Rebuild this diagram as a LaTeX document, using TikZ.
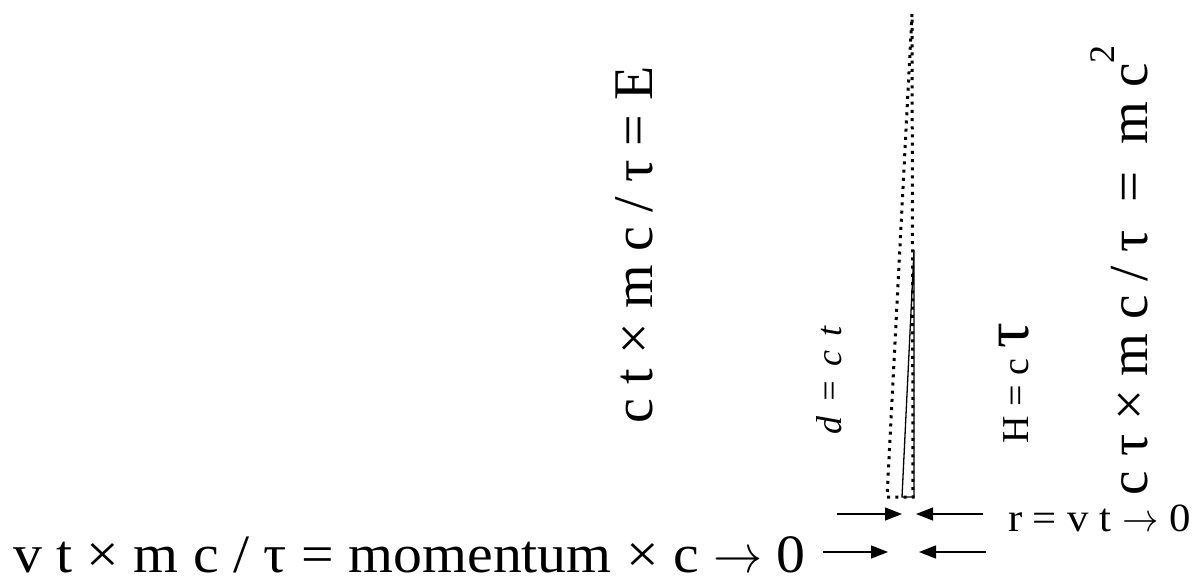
\RequirePackage{fix-cm}
\documentclass[tikz,border=0pt]{standalone}
\usepackage{graphicx}
\usepackage{fontspec}
\setmainfont{Liberation Serif}
\usetikzlibrary{arrows.meta}
\newcommand{\myarrow}{\scalebox{0.85}[1]{$\rightarrow$}}
\begin{document}
\begin{tikzpicture}[x=1pt,y=-1pt,
  dotline/.style={line width=3pt, dash pattern=on 3pt off 5.2pt},
  solidline/.style={line width=1.3pt},
  arr/.style={line width=1.3pt,-{Triangle[length=17pt,width=13pt]}},
  lbl/.style={inner sep=0pt, outer sep=0pt},
]
\useasboundingbox (0,0) rectangle (1193,582);
% dotted triangle
\coordinate (dA) at (912,14);
\coordinate (dL) at (887,497);
\coordinate (dR) at (913,497);
\draw[dotline] (dA) -- (dL) -- (dR) -- cycle;
% solid triangle
\coordinate (sA) at (914,250);
\coordinate (sL) at (902,497);
\coordinate (sR) at (914,497);
\draw[solidline] (sA) -- (sL) -- (sR) -- cycle;
% arrows
\coordinate (a1s) at (837,514); \coordinate (a1e) at (902,514);
\coordinate (a2s) at (983,514); \coordinate (a2e) at (916,514);
\coordinate (a3s) at (823,552); \coordinate (a3e) at (888,552);
\coordinate (a4s) at (986,552); \coordinate (a4e) at (919,552);
\draw[arr] (a1s) -- (a1e);
\draw[arr] (a2s) -- (a2e);
\draw[arr] (a3s) -- (a3e);
\draw[arr] (a4s) -- (a4e);
% texts
\node[lbl, rotate=90, anchor=base west, font=\fontsize{56}{60}\selectfont] (E) at (652,423) {c t × m c / τ = E};
\node[lbl, rotate=90, anchor=base west, font=\fontsize{55}{60}\selectfont] (mc2) at (1147,495) {c τ × m c / τ \ = \ m c\raisebox{33pt}{\fontsize{36}{36}\selectfont 2}};
\node[lbl, rotate=90, anchor=base west, font=\fontsize{38}{40}\selectfont] (H) at (1028,443) {H = c {\fontsize{64}{64}\selectfont τ}};
\node[lbl, rotate=90, anchor=base west, font=\itshape\fontsize{36}{40}\selectfont] (d) at (841,434) {d\hspace{0.35em}=\hspace{0.35em}c\hspace{0.4em}t};
\node[lbl, anchor=base west, font=\fontsize{40}{44}\selectfont] (r) at (1008,531) {\scalebox{1.07}[1]{r = v t \myarrow\ 0}};
\node[lbl, anchor=base west, font=\fontsize{54}{60}\selectfont] (mom) at (13,572) {\scalebox{1.07}[1]{v t × m c / τ = momentum × c \myarrow\ 0}};
\end{tikzpicture}
\end{document}
